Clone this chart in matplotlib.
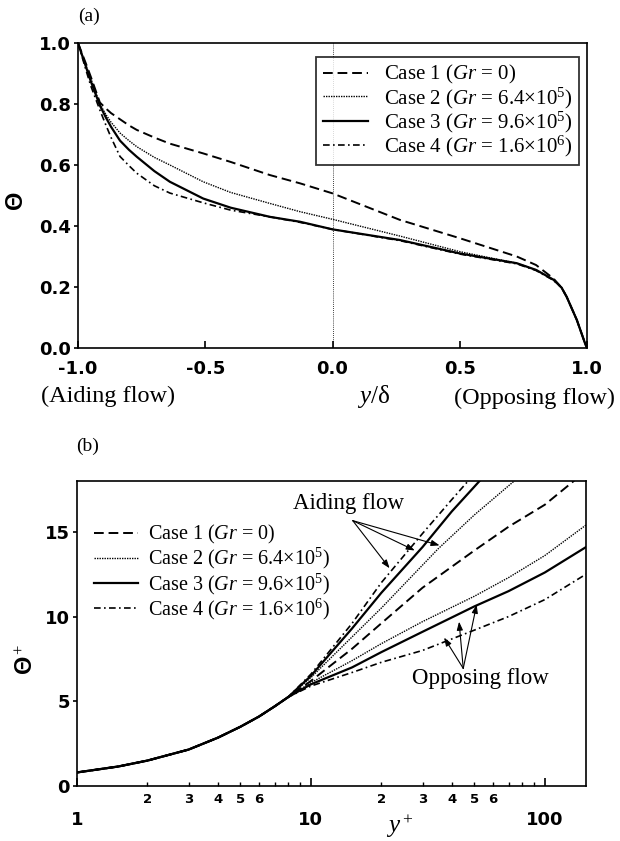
import numpy as np
import matplotlib
matplotlib.use("Agg")
import matplotlib.pyplot as plt
from matplotlib.font_manager import FontProperties
from matplotlib.ticker import FixedLocator, FuncFormatter

plt.rcParams['font.family'] = 'Liberation Serif'
plt.rcParams['mathtext.fontset'] = 'custom'
plt.rcParams['mathtext.rm'] = 'Liberation Serif'
plt.rcParams['mathtext.it'] = 'Liberation Serif:italic'
plt.rcParams['axes.unicode_minus'] = False

# ---------------- panel (a): temperature profiles across the channel
y_delta = [-1.0, -0.97, -0.95, -0.914, -0.89, -0.87, -0.835, -0.8, -0.769, -0.7, -0.639,
           -0.508, -0.4, -0.246, -0.128, 0.0, 0.265, 0.5, 0.724, 0.8, 0.868, 0.9,
           0.92, 0.96, 0.992, 1.0]
theta_case1 = [1.0, 0.935, 0.89, 0.805, 0.785, 0.77, 0.75, 0.73, 0.715, 0.69, 0.67,
               0.638, 0.61, 0.567, 0.54, 0.507, 0.42, 0.36, 0.30, 0.272, 0.228, 0.198,
               0.168, 0.092, 0.016, 0.0]
theta_case2 = [1.0, 0.93, 0.885, 0.80, 0.765, 0.74, 0.705, 0.68, 0.66, 0.625, 0.60,
               0.545, 0.51, 0.474, 0.447, 0.422, 0.367, 0.316, 0.278, 0.256, 0.224, 0.198,
               0.168, 0.092, 0.016, 0.0]
theta_case3 = [1.0, 0.925, 0.875, 0.795, 0.755, 0.725, 0.68, 0.65, 0.627, 0.58, 0.545,
               0.49, 0.46, 0.43, 0.414, 0.389, 0.354, 0.31, 0.278, 0.256, 0.224, 0.198,
               0.168, 0.092, 0.016, 0.0]
theta_case4 = [1.0, 0.915, 0.86, 0.78, 0.73, 0.69, 0.628, 0.598, 0.573, 0.532, 0.508,
               0.476, 0.452, 0.43, 0.412, 0.389, 0.352, 0.308, 0.276, 0.254, 0.222, 0.198,
               0.168, 0.092, 0.016, 0.0]

# ---------------- panel (b): wall units
yp_wall = [1, 1.5, 2, 3, 4, 5, 6, 7, 8]
tp_wall = [0.8, 1.15, 1.5, 2.15, 2.85, 3.5, 4.1, 4.7, 5.25]

yp_case1 = [10, 15, 20, 30, 50, 70, 100, 133, 150]
tp_case1 = [6.2, 8.1, 9.6, 11.7, 13.9, 15.3, 16.6, 18.0, 18.9]

yp_aid2 = [10, 15, 20, 35, 50, 74, 90]
tp_aid2 = [6.4, 8.8, 10.5, 14.0, 16.0, 18.0, 19.0]
yp_aid3 = [10, 15, 20, 30, 40, 52.6, 60]
tp_aid3 = [6.5, 9.3, 11.4, 14.1, 16.2, 18.0, 19.0]
yp_aid4 = [10, 15, 20, 30, 40, 47, 55]
tp_aid4 = [6.6, 9.6, 12.0, 14.9, 16.9, 18.0, 19.2]

yp_opp = [10, 15, 20, 30, 50, 70, 100, 150]
tp_opp2 = [6.1, 7.4, 8.4, 9.7, 11.2, 12.3, 13.6, 15.4]
tp_opp3 = [6.0, 7.0, 7.9, 9.1, 10.6, 11.5, 12.6, 14.1]
tp_opp4 = [5.9, 6.7, 7.3, 8.0, 9.2, 10.0, 11.0, 12.5]

labels = [r"Case 1 ($Gr$ = 0)",
          r"Case 2 ($Gr$ = 6.4×10$^5$)",
          r"Case 3 ($Gr$ = 9.6×10$^5$)",
          r"Case 4 ($Gr$ = 1.6×10$^6$)"]

styles = [dict(color='k', lw=1.4, dashes=(5, 2.5)),
          dict(color='k', lw=1.0, dashes=(1, 0.8)),
          dict(color='k', lw=1.6, linestyle='-'),
          dict(color='k', lw=1.2, dashes=(4, 2, 1, 2))]

tick_font = dict(family='DejaVu Sans', weight='bold', size=13)

fig = plt.figure(figsize=(6.2, 8.41), dpi=100)
W, H = 620.0, 841.0


def px_axes(l, t, r, b):
    return fig.add_axes([l / W, 1 - b / H, (r - l) / W, (b - t) / H])


# ================= (a)
ax1 = px_axes(78, 43, 587, 348)
a_series = [theta_case1, theta_case2, theta_case3, theta_case4]
for vals, st, lab in zip(a_series, styles, labels):
    ax1.plot(y_delta, vals, label=lab, **st)
ax1.axvline(0.0, color='k', lw=0.6, dashes=(1, 1.5))
ax1.set_xlim(-1, 1)
ax1.set_ylim(0, 1)
ax1.set_xticks([-1.0, -0.5, 0.0, 0.5, 1.0])
ax1.set_yticks([0.0, 0.2, 0.4, 0.6, 0.8, 1.0])
ax1.xaxis.set_major_formatter(FuncFormatter(lambda v, p: f"{v:.1f}"))
ax1.yaxis.set_major_formatter(FuncFormatter(lambda v, p: f"{v:.1f}"))
ax1.tick_params(axis='x', direction='in', length=5, width=1.2, pad=9)
ax1.tick_params(axis='y', direction='out', length=3, width=1.2, pad=2)
for lbl in ax1.get_xticklabels() + ax1.get_yticklabels():
    lbl.set_fontproperties(FontProperties(**tick_font))
for s in ax1.spines.values():
    s.set_linewidth(1.2)
ax1.set_ylabel("Θ", fontsize=17, family='Liberation Sans', weight='bold')
ax1.yaxis.set_label_coords(-0.10, 0.485)
leg1 = ax1.legend(loc='upper right', bbox_to_anchor=(0.984, 0.954), borderaxespad=0,
                  fontsize=15, frameon=True, fancybox=False, edgecolor='k',
                  handlelength=2.2, handletextpad=0.75, labelspacing=-0.05,
                  borderpad=0.3)
leg1.get_frame().set_linewidth(1.3)

fig.text(89 / W, 1 - 16 / H, "(a)", fontsize=14, ha='center', va='center')
fig.text(108 / W, 1 - 396 / H, "(Aiding flow)", fontsize=17.5, ha='center', va='center')
fig.text(374 / W, 1 - 396 / H, r"$y$/δ", fontsize=18, ha='center', va='center')
fig.text(535 / W, 1 - 398 / H, "(Opposing flow)", fontsize=17.5, ha='center', va='center')

# ================= (b)
ax2 = px_axes(77, 481, 586, 786)
ax2.plot(yp_wall + yp_case1, tp_wall + tp_case1, label=labels[0], **styles[0])
ax2.plot(yp_wall + yp_aid2, tp_wall + tp_aid2, label=labels[1], **styles[1])
ax2.plot(yp_wall + yp_aid3, tp_wall + tp_aid3, label=labels[2], **styles[2])
ax2.plot(yp_wall + yp_aid4, tp_wall + tp_aid4, label=labels[3], **styles[3])
ax2.plot(yp_wall + yp_opp, tp_wall + tp_opp2, **styles[1])
ax2.plot(yp_wall + yp_opp, tp_wall + tp_opp3, **styles[2])
ax2.plot(yp_wall + yp_opp, tp_wall + tp_opp4, **styles[3])
ax2.set_xscale('log')
ax2.set_xlim(1, 150)
ax2.set_ylim(0, 18)
ax2.set_yticks([0, 5, 10, 15])
ax2.xaxis.set_major_locator(FixedLocator([1, 10, 100]))
ax2.xaxis.set_major_formatter(FuncFormatter(lambda v, p: f"{v:g}"))
minor_pos = [m * d for d in (1, 10, 100) for m in range(2, 10) if m * d < 150]
ax2.xaxis.set_minor_locator(FixedLocator(minor_pos))


def minor_label(v, p):
    mant = int(round(v / 10 ** np.floor(np.log10(v) + 1e-9)))
    return str(mant) if v < 100 and mant <= 6 else ""


ax2.xaxis.set_minor_formatter(FuncFormatter(minor_label))
ax2.tick_params(axis='x', which='major', direction='in', length=6, width=1.2, pad=18)
ax2.tick_params(axis='x', which='minor', direction='in', length=3, width=1.0, pad=5)
ax2.tick_params(axis='y', direction='out', length=3, width=1.2, pad=2)
for lbl in ax2.get_xticklabels() + ax2.get_yticklabels():
    lbl.set_fontproperties(FontProperties(**tick_font))
for lbl in ax2.get_xticklabels(minor=True):
    lbl.set_fontproperties(FontProperties(family='DejaVu Sans', weight='bold', size=9.5))
for s in ax2.spines.values():
    s.set_linewidth(1.2)
ax2.set_ylabel("Θ$^+$", fontsize=17, family='Liberation Sans', weight='bold')
ax2.yaxis.set_label_coords(-0.077, 0.416)
ax2.legend(loc='upper left', bbox_to_anchor=(0.033, 0.862), borderaxespad=0,
           fontsize=14.5, frameon=False, handlelength=2.2, handletextpad=0.5,
           labelspacing=0.0, borderpad=0.0)

arrow = dict(arrowstyle='-|>,head_length=0.5,head_width=0.18', color='k', lw=0.8,
             shrinkA=0, shrinkB=0)
for tgt in [(21.7, 12.85), (27.8, 13.9), (35.5, 14.2)]:
    ax2.annotate("", xy=tgt, xytext=(15.1, 15.66), arrowprops=arrow)
for tgt in [(37.1, 8.76), (43.0, 9.7), (51.1, 10.7)]:
    ax2.annotate("", xy=tgt, xytext=(44.8, 6.94), arrowprops=arrow)
ax2.text(14.5, 16.65, "Aiding flow", fontsize=16.5, ha='center', va='center')
ax2.text(52.8, 6.35, "Opposing flow", fontsize=16.5, ha='center', va='center')

fig.text(88 / W, 1 - 446 / H, "(b)", fontsize=14, ha='center', va='center')
fig.text(400 / W, 1 - 826 / H, r"$y^+$", fontsize=18, ha='center', va='center')

fig.savefig("out.png", dpi=100)
